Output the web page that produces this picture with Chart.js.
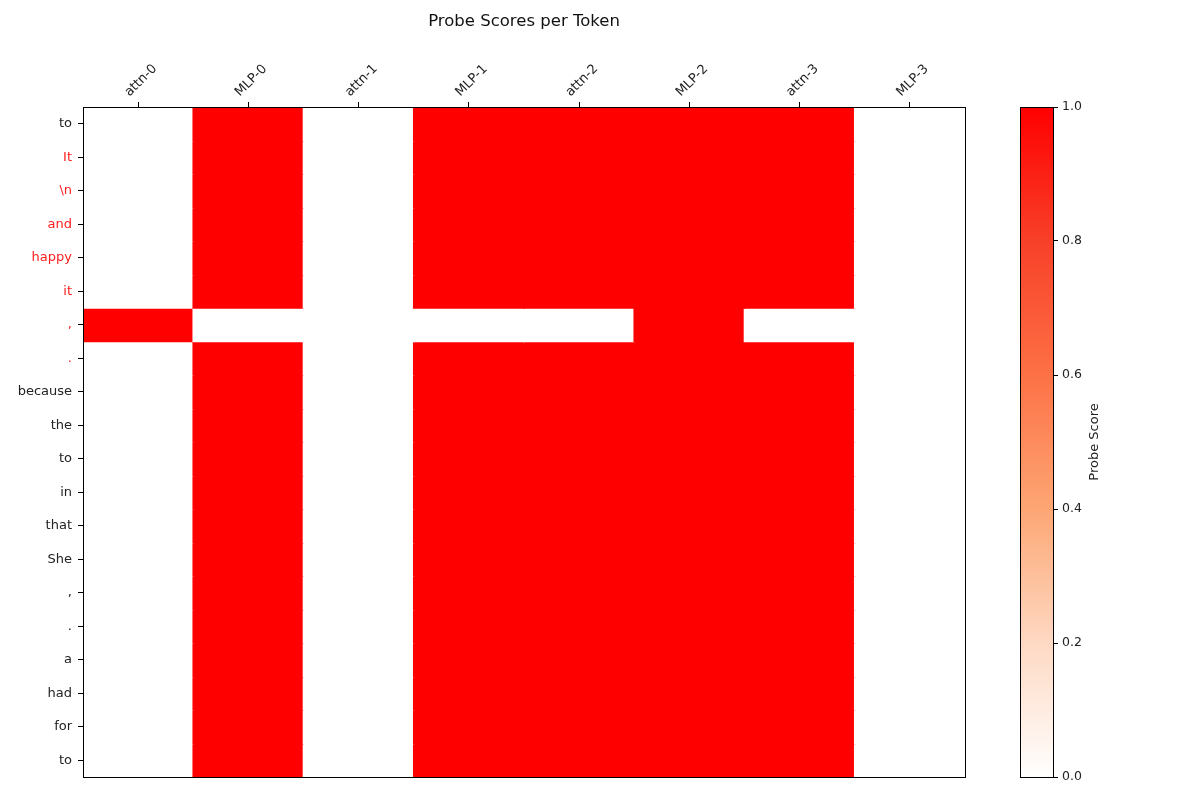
<!DOCTYPE html>
<html>
<head>
<meta charset="utf-8">
<script src="https://cdn.jsdelivr.net/npm/chart.js@4.4.1/dist/chart.umd.min.js"></script>
<style>
  html, body { margin: 0; padding: 0; background: #ffffff; }
  #wrap { position: relative; width: 1200px; height: 800px; }
  #main { position: absolute; left: 0; top: 0; width: 1000px; height: 800px; }
  #cbar { position: absolute; left: 1000px; top: 0; width: 200px; height: 800px; }
</style>
</head>
<body>
<div id="wrap">
  <div id="main"><canvas id="c1"></canvas></div>
  <div id="cbar"><canvas id="c2"></canvas></div>
</div>
<script>
// ---------- data ----------
const layers = ['attn-0', 'MLP-0', 'attn-1', 'MLP-1', 'attn-2', 'MLP-2', 'attn-3', 'MLP-3'];
const tokens = ['to', 'It', '\\n', 'and', 'happy', 'it', ',', '.', 'because', 'the',
                'to', 'in', 'that', 'She', ',', '.', 'a', 'had', 'for', 'to'];
const highlightedTokens = [1, 2, 3, 4, 5, 6, 7];
const scores = [
  [0, 1, 0, 1, 1, 1, 1, 0],
  [0, 1, 0, 1, 1, 1, 1, 0],
  [0, 1, 0, 1, 1, 1, 1, 0],
  [0, 1, 0, 1, 1, 1, 1, 0],
  [0, 1, 0, 1, 1, 1, 1, 0],
  [0, 1, 0, 1, 1, 1, 1, 0],
  [1, 0, 0, 0, 0, 1, 0, 0],
  [0, 1, 0, 1, 1, 1, 1, 0],
  [0, 1, 0, 1, 1, 1, 1, 0],
  [0, 1, 0, 1, 1, 1, 1, 0],
  [0, 1, 0, 1, 1, 1, 1, 0],
  [0, 1, 0, 1, 1, 1, 1, 0],
  [0, 1, 0, 1, 1, 1, 1, 0],
  [0, 1, 0, 1, 1, 1, 1, 0],
  [0, 1, 0, 1, 1, 1, 1, 0],
  [0, 1, 0, 1, 1, 1, 1, 0],
  [0, 1, 0, 1, 1, 1, 1, 0],
  [0, 1, 0, 1, 1, 1, 1, 0],
  [0, 1, 0, 1, 1, 1, 1, 0],
  [0, 1, 0, 1, 1, 1, 1, 0]
];
const colorbarTicks = [0, 0.2, 0.4, 0.6, 0.8, 1.0];

// ---------- colormap ----------
const cmapStops = [
  [0.0, [255, 255, 255]],
  [0.05, [255, 245, 239]],
  [0.2, [254, 217, 195]],
  [0.4, [253, 166, 116]],
  [0.6, [253, 113, 70]],
  [0.8, [248, 64, 40]],
  [1.0, [255, 0, 0]]
];
function cmap(v) {
  v = Math.max(0, Math.min(1, v));
  for (let i = 1; i < cmapStops.length; i++) {
    const [p1, c1] = cmapStops[i];
    const [p0, c0] = cmapStops[i - 1];
    if (v <= p1) {
      const t = (v - p0) / (p1 - p0);
      const c = c0.map((a, k) => Math.round(a + (c1[k] - a) * t));
      return `rgb(${c[0]},${c[1]},${c[2]})`;
    }
  }
  return 'rgb(255,0,0)';
}

const FONT = "'DejaVu Sans', sans-serif";
const TICK_COLOR = '#222222';

const frame = {
  id: 'frame',
  afterDatasetsDraw(chart) {
    const a = chart.chartArea, ctx = chart.ctx;
    ctx.save();
    ctx.strokeStyle = '#000';
    ctx.lineWidth = 1;
    ctx.strokeRect(Math.round(a.left) + 0.5, Math.round(a.top) + 0.5,
                   Math.round(a.right - a.left), Math.round(a.bottom - a.top));
    ctx.restore();
  }
};

const mainTitle = {
  id: 'mainTitle',
  afterDraw(chart) {
    const a = chart.chartArea, ctx = chart.ctx;
    ctx.save();
    ctx.fillStyle = '#111';
    ctx.font = `16.5px ${FONT}`;
    ctx.textAlign = 'center';
    ctx.textBaseline = 'middle';
    ctx.fillText('Probe Scores per Token', (a.left + a.right) / 2, 22);
    ctx.restore();
  }
};

// ---------- heatmap ----------
const datasets = tokens.map((tok, i) => ({
  label: tok + '#' + i,
  data: layers.map(() => [i - 0.5, i + 0.5]),
  backgroundColor: scores[i].map(v => cmap(v)),
  borderWidth: 0,
  inflateAmount: 0.8,
  barPercentage: 1,
  categoryPercentage: 1,
  grouped: false
}));

new Chart(document.getElementById('c1'), {
  type: 'bar',
  data: { labels: layers, datasets },
  plugins: [frame, mainTitle],
  options: {
    responsive: true,
    maintainAspectRatio: false,
    animation: false,
    events: [],
    layout: { padding: { left: 0, right: 35, top: 31, bottom: 23 } },
    plugins: {
      legend: { display: false },
      tooltip: { enabled: false },
      title: { display: false }
    },
    scales: {
      x: {
        type: 'category',
        position: 'top',
        offset: true,
        grid: { display: true, drawOnChartArea: false, drawTicks: true, tickLength: 5,
                color: '#000', offset: false },
        border: { display: false },
        ticks: {
          minRotation: 45, maxRotation: 45, padding: 2,
          color: TICK_COLOR,
          font: { family: FONT, size: 13 }
        },
        afterFit(scale) { scale.height = 76; }
      },
      y: {
        type: 'linear',
        min: -0.5, max: tokens.length - 0.5,
        reverse: true,
        grid: { display: true, drawOnChartArea: false, drawTicks: true, tickLength: 5,
                color: '#000' },
        border: { display: false },
        afterBuildTicks(scale) { scale.ticks = tokens.map((_, i) => ({ value: i })); },
        ticks: {
          autoSkip: false,
          padding: 6,
          callback: (v) => tokens[v],
          color: (ctx) => highlightedTokens.includes(ctx.index) ? '#ff2020' : TICK_COLOR,
          font: { family: FONT, size: 13 }
        },
        afterFit(scale) { scale.width = 83; }
      }
    }
  }
});

// ---------- colorbar ----------
const cbarTitle = {
  id: 'cbarTitle',
  afterDraw(chart) {
    const a = chart.chartArea, ctx = chart.ctx;
    ctx.save();
    ctx.translate(a.right + 42, (a.top + a.bottom) / 2);
    ctx.rotate(-Math.PI / 2);
    ctx.fillStyle = TICK_COLOR;
    ctx.font = `13px ${FONT}`;
    ctx.textAlign = 'center';
    ctx.textBaseline = 'middle';
    ctx.fillText('Probe Score', 0, 0);
    ctx.restore();
  }
};

new Chart(document.getElementById('c2'), {
  type: 'bar',
  data: {
    labels: [''],
    datasets: [{
      data: [[0, 1]],
      borderWidth: 0,
      barPercentage: 1,
      categoryPercentage: 1,
      backgroundColor(ctx) {
        const a = ctx.chart.chartArea;
        if (!a) return 'rgba(0,0,0,0)';
        const g = ctx.chart.ctx.createLinearGradient(0, a.bottom, 0, a.top);
        cmapStops.forEach(([p]) => g.addColorStop(p, cmap(p)));
        return g;
      }
    }]
  },
  plugins: [frame, cbarTitle],
  options: {
    responsive: true,
    maintainAspectRatio: false,
    animation: false,
    events: [],
    layout: { padding: { left: 20, right: 0, top: 107, bottom: 23 } },
    plugins: { legend: { display: false }, tooltip: { enabled: false } },
    scales: {
      x: { display: false },
      y: {
        position: 'right',
        min: 0, max: 1,
        grid: { display: true, drawOnChartArea: false, drawTicks: true, tickLength: 5, color: '#000' },
        border: { display: false },
        afterBuildTicks(scale) { scale.ticks = colorbarTicks.map(v => ({ value: v })); },
        ticks: {
          padding: 4,
          color: TICK_COLOR,
          font: { family: FONT, size: 12.5 },
          callback: (v) => Number(v).toFixed(1)
        },
        afterFit(scale) { scale.width = 147; }
      }
    }
  }
});
</script>
</body>
</html>
